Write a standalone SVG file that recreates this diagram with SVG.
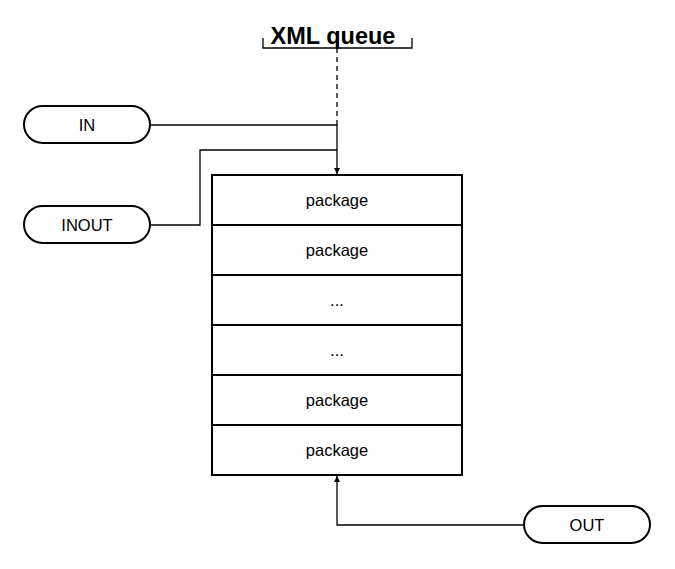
<svg xmlns="http://www.w3.org/2000/svg" width="675" height="569" viewBox="0 0 675 569">
<style>
.pill{fill:#fff;stroke:#000;stroke-width:2}
.row{fill:#fff;stroke:#000;stroke-width:2}
.t{font-family:"Liberation Sans",Arial,sans-serif;font-size:16.5px;text-anchor:middle;fill:#000}
.c{fill:none;stroke:#000;stroke-width:1.3}
</style>
<defs>
<marker id="ah" viewBox="0 0 10 10" refX="10" refY="5" markerWidth="6" markerHeight="8" orient="auto" markerUnits="userSpaceOnUse"><path d="M0,0L10,5L0,10z" fill="#000"/></marker>
</defs>
<rect width="675" height="569" fill="#fff"/>
<g id="title">
<text x="333" y="44" style="font-family:'Liberation Sans',Arial,sans-serif;font-size:23.5px;font-weight:bold;text-anchor:middle">XML queue</text>
<path d="M263,38V48H412V38" class="c"/>
</g>
<g id="queue">
<rect x="212" y="175" width="250" height="50" class="row"/>
<rect x="212" y="225" width="250" height="50" class="row"/>
<rect x="212" y="275" width="250" height="50" class="row"/>
<rect x="212" y="325" width="250" height="50" class="row"/>
<rect x="212" y="375" width="250" height="50" class="row"/>
<rect x="212" y="425" width="250" height="50" class="row"/>
<text x="337" y="206" class="t">package</text>
<text x="337" y="256" class="t">package</text>
<text x="337" y="306" class="t">...</text>
<text x="337" y="356" class="t">...</text>
<text x="337" y="406" class="t">package</text>
<text x="337" y="456" class="t">package</text>
</g>
<g id="in">
<rect x="24" y="106" width="126" height="37" rx="18.5" class="pill"/>
<text x="87" y="131" class="t">IN</text>
</g>
<g id="inout">
<rect x="24" y="206" width="126" height="37" rx="18.5" class="pill"/>
<text x="87" y="231" class="t">INOUT</text>
</g>
<g id="out">
<rect x="524" y="506" width="126" height="37" rx="18.5" class="pill"/>
<text x="587" y="531" class="t">OUT</text>
</g>
<g id="connectors">
<path d="M337,48V124" class="c" stroke-dasharray="5,4"/>
<path d="M150,125H337" class="c"/>
<path d="M150,225H200V150H337" class="c"/>
<path d="M337,124V174" class="c" marker-end="url(#ah)"/>
<path d="M524,525H337V476" class="c" marker-end="url(#ah)"/>
</g>
</svg>
